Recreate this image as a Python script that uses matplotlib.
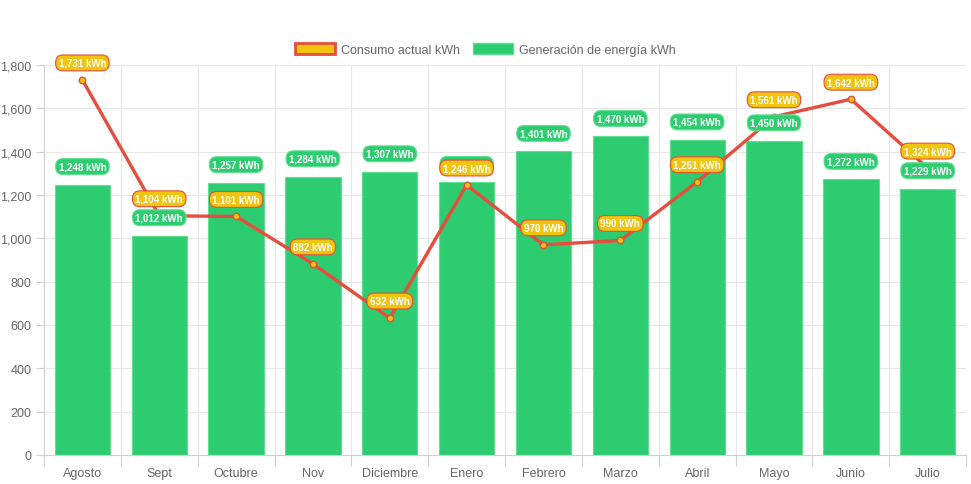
import matplotlib
matplotlib.use("Agg")
import matplotlib.pyplot as plt
from matplotlib.patches import Patch
from matplotlib.ticker import FuncFormatter, FixedLocator, NullFormatter
import numpy as np

plt.rcParams["font.family"] = ["Liberation Sans", "DejaVu Sans"]

months = ["Agosto", "Sept", "Octubre", "Nov", "Diciembre", "Enero", "Febrero",
          "Marzo", "Abril", "Mayo", "Junio", "Julio"]
consumo = [1731, 1104, 1101, 882, 632, 1246, 970, 990, 1261, 1561, 1642, 1324]
generacion = [1248, 1012, 1257, 1284, 1307, 1258, 1401, 1470, 1454, 1450, 1272, 1229]

RED = "#e74c3c"
YELLOW = "#f1c40f"
GREEN = "#2ecc71"
GRID = "#e6e6e6"
TXT = "#666666"

fig = plt.figure(figsize=(9.71, 4.85), dpi=100)
ax = fig.add_axes([0.0453, 0.0598, 0.9497, 0.8042])

x = np.arange(len(months))
ax.bar(x, generacion, width=0.72, color=GREEN, edgecolor="#5ee08f", linewidth=0.8, zorder=2)
ax.plot(x, consumo, color=RED, linewidth=2.4, zorder=3)
ax.scatter(x, consumo, s=22, color=YELLOW, edgecolor=RED, linewidth=1, zorder=4)

# data labels, a bit above each point
for i in range(len(months)):
    ax.annotate(f"{generacion[i]:,} kWh", (x[i], generacion[i]), xytext=(0, 18),
                textcoords="offset pixels",
                ha="center", va="center", fontsize=7, fontweight="bold", color="white",
                bbox=dict(boxstyle="round,pad=0.3,rounding_size=0.75", fc=GREEN, ec="#5ee08f", lw=0.8),
                zorder=5)
for i in range(len(months)):
    ax.annotate(f"{consumo[i]:,} kWh", (x[i], consumo[i]), xytext=(0, 17),
                textcoords="offset pixels",
                ha="center", va="center", fontsize=7, fontweight="bold", color="white",
                bbox=dict(boxstyle="round,pad=0.3,rounding_size=0.75", fc=YELLOW, ec=RED, lw=0.8),
                zorder=6)

ax.set_xlim(-0.5, len(months) - 0.5)
ax.set_ylim(0, 1800)
ax.set_yticks(np.arange(0, 1801, 200))
ax.yaxis.set_major_formatter(FuncFormatter(lambda v, p: f"{int(v):,}"))

ax.set_xticks(x)
ax.set_xticklabels(months)
ax.xaxis.set_minor_locator(FixedLocator(np.arange(-0.5, len(months), 1.0)))
ax.xaxis.set_minor_formatter(NullFormatter())
ax.tick_params(axis="x", which="major", length=0, pad=9, labelsize=9, labelcolor=TXT)
ax.tick_params(axis="x", which="minor", length=8, color="#d0d0d0", width=0.8)
ax.tick_params(axis="y", length=6, color="#d0d0d0", width=0.8, labelsize=9, labelcolor=TXT, pad=3)

ax.grid(axis="y", color=GRID, linewidth=0.8, zorder=0)
ax.grid(axis="x", which="minor", color=GRID, linewidth=0.8, zorder=0)
ax.set_axisbelow(True)
for s in ["top", "right"]:
    ax.spines[s].set_visible(False)
ax.spines["left"].set_color("#d0d0d0")
ax.spines["bottom"].set_color("#d0d0d0")

handles = [Patch(facecolor=YELLOW, edgecolor=RED, linewidth=2, label="Consumo actual kWh"),
           Patch(facecolor=GREEN, edgecolor="#5ee08f", linewidth=1, label="Generación de energía kWh")]
fig.legend(handles=handles, loc="center", bbox_to_anchor=(0.5, 0.896), ncol=2, frameon=False,
           fontsize=9, labelcolor=TXT, handlelength=3.2, handleheight=1.0, columnspacing=1.0,
           handletextpad=0.5)

fig.savefig("out.png", dpi=100)
